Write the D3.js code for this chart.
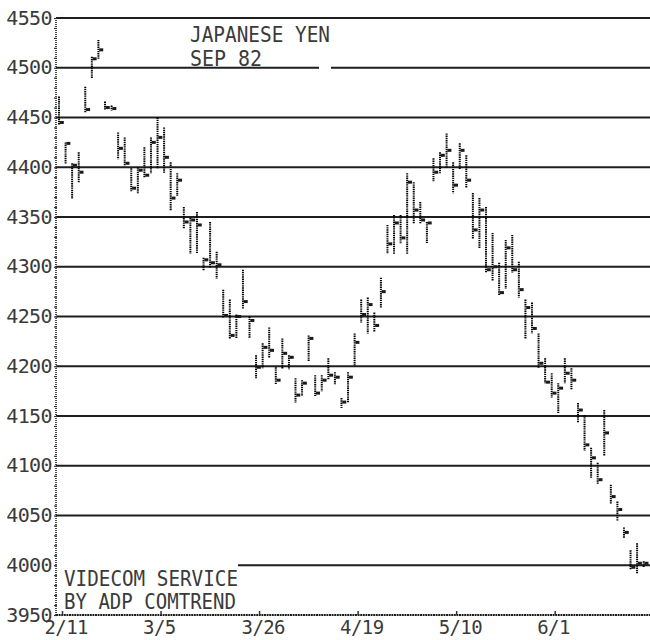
<!DOCTYPE html>
<html>
<head>
<meta charset="utf-8">
<script src="https://cdn.jsdelivr.net/npm/d3@7"></script>
<style>
  body { margin: 0; background: #fff; }
  text { font-family: "DejaVu Sans Mono", monospace; fill: #3a3a3a; }
</style>
</head>
<body>
<div id="chart"></div>
<script>
// daily bars, Sep 82 Japanese Yen futures (trading-day index from 2/11)
const highs = [
  4471, 4425, 4404, 4415, 4481, 4511, 4528, 4466, 4462, 4435,
  4430, 4399, 4400, 4420, 4430, 4450, 4440, 4405, 4394, 4360,
  4349, 4355, 4309, 4345, 4315, 4277, 4267, 4252, 4297, 4250,
  4211, 4223, 4239, 4199, 4228, 4211, 4188, 4186, 4231, 4191,
  4191, 4208, 4194, 4168, 4194, 4233, 4267, 4269, 4254, 4289,
  4342, 4352, 4352, 4394, 4385, 4365, 4345, 4409, 4415, 4434,
  4405, 4424, 4412, 4374, 4369, 4360, 4334, 4304, 4327, 4332,
  4305, 4267, 4264, 4233, 4208, 4193, 4183, 4208, 4198, 4163,
  4151, 4118, 4103, 4156, 4081, 4064, 4038, 4015, 4022, 4004
];
const lows = [
  4444, 4404, 4369, 4385, 4456, 4490, 4510, 4458, 4458, 4409,
  4402, 4377, 4374, 4390, 4395, 4400, 4395, 4357, 4372, 4339,
  4314, 4314, 4297, 4300, 4289, 4250, 4229, 4229, 4259, 4229,
  4189, 4199, 4209, 4183, 4198, 4198, 4164, 4171, 4206, 4171,
  4176, 4188, 4183, 4159, 4164, 4201, 4245, 4234, 4236, 4260,
  4314, 4314, 4324, 4314, 4344, 4344, 4325, 4387, 4395, 4400,
  4375, 4399, 4380, 4329, 4319, 4295, 4287, 4272, 4279, 4295,
  4270, 4229, 4234, 4199, 4184, 4169, 4154, 4184, 4178, 4144,
  4116, 4089, 4083, 4111, 4063, 4046, 4028, 3997, 3993, 3999
];
const closes = [
  4445, 4424, 4402, 4395, 4458, 4509, 4518, 4460, 4459, 4419,
  4404, 4379, 4397, 4392, 4425, 4430, 4410, 4369, 4387, 4345,
  4347, 4342, 4307, 4304, 4302, 4251, 4231, 4250, 4265, 4246,
  4199, 4219, 4216, 4186, 4213, 4209, 4171, 4183, 4228, 4173,
  4186, 4191, 4189, 4164, 4189, 4224, 4252, 4262, 4241, 4275,
  4323, 4344, 4329, 4385, 4357, 4347, 4344, 4395, 4412, 4417,
  4382, 4417, 4387, 4337, 4357, 4297, 4300, 4274, 4319, 4297,
  4277, 4259, 4238, 4203, 4184, 4173, 4178, 4193, 4186, 4156,
  4121, 4108, 4086, 4133, 4069, 4056, 4033, 3998, 4002, 4002
];
const tickDays = [0, 15, 30, 45, 60, 75];
const tickLabels = ["2/11", "3/5", "3/26", "4/19", "5/10", "6/1"];
const priceTicks = [3950, 4000, 4050, 4100, 4150, 4200, 4250, 4300, 4350, 4400, 4450, 4500, 4550];

const width = 650;
const height = 640;
const left = 56;

const x = d3.scaleLinear().domain([0, 75]).range([59, 551.7]);
const y = d3.scaleLinear().domain([3950, 4550]).range([615, 18]);

const svg = d3.select("#chart").append("svg")
  .attr("width", width)
  .attr("height", height);

svg.append("rect").attr("width", width).attr("height", height).attr("fill", "#fff");

// horizontal grid lines
svg.append("g")
  .selectAll("line")
  .data(priceTicks)
  .enter()
  .append("line")
  .attr("x1", (d) => (d === 4000 ? 238 : left))
  .attr("x2", width)
  .attr("y1", (d) => y(d))
  .attr("y2", (d) => y(d))
  .attr("stroke", "#1e1e1e")
  .attr("stroke-width", 2.2)
  .attr("stroke-dasharray", (d) => (d === 3950 ? "2,0.6" : null));

// little break in the 4500 line next to the title
svg.append("rect").attr("x", 319).attr("y", y(4500) - 3).attr("width", 12).attr("height", 6).attr("fill", "#fff");

// dotted price axis with minor ticks every 10
svg.append("line")
  .attr("x1", left).attr("x2", left)
  .attr("y1", y(4550)).attr("y2", y(3950))
  .attr("stroke", "#222")
  .attr("stroke-width", 1.6)
  .attr("stroke-dasharray", "1,1");

const minor = svg.append("g")
  .attr("transform", `translate(${left + 1},0)`)
  .call(d3.axisLeft(y).tickValues(d3.range(3950, 4551, 10)).tickSize(3).tickFormat(""));
minor.select(".domain").remove();
minor.selectAll("line").attr("stroke", "#333").attr("stroke-width", 1.2);

const yAxis = svg.append("g")
  .attr("transform", `translate(${left},0)`)
  .call(d3.axisLeft(y).tickValues(priceTicks).tickSize(0).tickFormat(d3.format("d")));
yAxis.select(".domain").remove();
yAxis.selectAll("text")
  .attr("x", -4)
  .attr("dy", "0.3em")
  .style("font-size", "20px")
  .attr("letter-spacing", "-0.6");

// date axis
const xAxis = svg.append("g")
  .attr("transform", "translate(3,615)")
  .call(d3.axisBottom(x).tickValues(tickDays).tickFormat((d, i) => tickLabels[i]).tickSizeInner(-4).tickSizeOuter(0));
xAxis.select(".domain").remove();
xAxis.selectAll("line").attr("stroke", "#333").attr("stroke-width", 1.5);
xAxis.selectAll("text")
  .attr("text-anchor", "start")
  .attr("x", -18)
  .attr("y", 19)
  .attr("dy", null)
  .style("font-size", "19px")
  .attr("letter-spacing", "-0.6");

// high-low bars with close ticks
const bars = svg.append("g");
bars.selectAll("line")
  .data(highs)
  .enter()
  .append("line")
  .attr("x1", (d, i) => x(i))
  .attr("x2", (d, i) => x(i))
  .attr("y1", (d) => y(d))
  .attr("y2", (d, i) => y(lows[i]) + 1)
  .attr("stroke", "#000")
  .attr("stroke-width", 2)
  .attr("stroke-dasharray", "1.4,0.8");

bars.selectAll("rect")
  .data(closes)
  .enter()
  .append("rect")
  .attr("x", (d, i) => x(i) + 0.8)
  .attr("y", (d) => y(d) - 1.5)
  .attr("width", 4)
  .attr("height", 3)
  .attr("fill", "#1a1a1a");

// title and credits
const label = (txt, tx, ty, len) =>
  svg.append("text")
    .attr("x", tx).attr("y", ty)
    .attr("textLength", len)
    .attr("lengthAdjust", "spacingAndGlyphs")
    .style("font-size", "21px")
    .text(txt);

label("JAPANESE YEN", 190, 42, 140);
label("SEP 82", 190, 66, 72);
label("VIDECOM SERVICE", 64, 586, 174);
label("BY ADP COMTREND", 64, 609, 172);
</script>
</body>
</html>
